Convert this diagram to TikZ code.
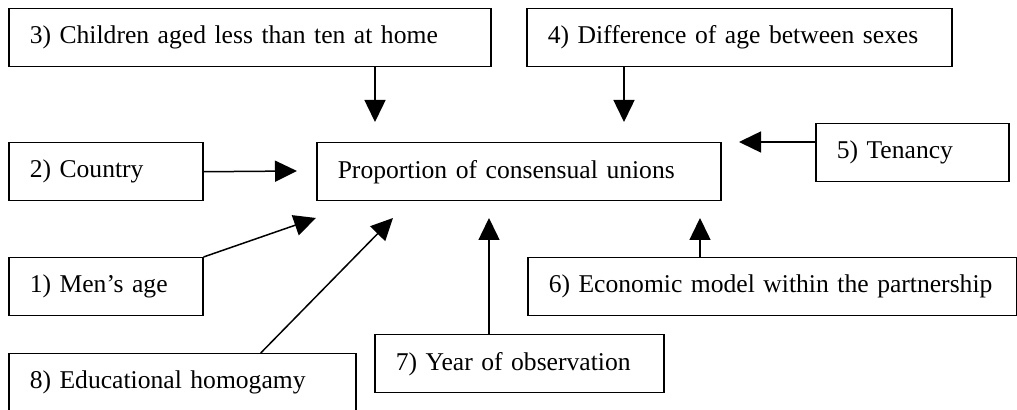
\documentclass[tikz,border=0pt]{standalone}
\usepackage{fontspec}
\setmainfont{Liberation Serif}
\usetikzlibrary{arrows.meta}
\definecolor{cuInk}{HTML}{000000}
\tikzset{
  factor/.style={
    draw=cuInk, line width=0.75pt, anchor=north west,
    inner xsep=10.5pt, inner ysep=0pt, minimum height=29pt,
    align=left, font=\fontsize{12.8}{15}\selectfont, text=cuInk
  },
  link/.style={-{Triangle[length=11pt, width=10.5pt]}, line width=0.75pt, draw=cuInk},
}
\begin{document}
\begin{tikzpicture}[x=0.5pt, y=-0.5pt]
  \useasboundingbox (0,0) rectangle (1017,410);

  \node[factor, text width=181pt]   (outcome) at (316,142) {Proportion of consensual unions};
  \node[factor, text width=76pt]    (c1) at (8,257)   {1) Men’s age};
  \node[factor, text width=76pt]    (c2) at (8,142)   {2) Country};
  \node[factor, text width=220pt]   (c3) at (8,8)     {3) Children aged less than ten at home};
  \node[factor, text width=191.5pt] (c4) at (526,8)   {4) Difference of age between sexes};
  \node[factor, text width=75.5pt]  (c5) at (815,123) {5) Tenancy};
  \node[factor, text width=223.5pt] (c6) at (527,257) {6) Economic model within the partnership};
  \node[factor, text width=123.5pt] (c7) at (374,334) {7) Year of observation};
  \node[factor, text width=152.5pt] (c8) at (8,353)   {8) Educational homogamy};

  % arrow tips stop short of the central box
  \coordinate (t1) at (316,218);
  \coordinate (t2) at (297,171);
  \coordinate (t3) at (375,122);
  \coordinate (t4) at (624,122);
  \coordinate (t5) at (739,142);
  \coordinate (t6) at (700,218);
  \coordinate (t7) at (489,218);
  \coordinate (t8) at (393,218);

  \draw[link] (c1.north east) -- (t1);
  \draw[link] (c2.east) -- (t2);
  \draw[link] (c3.south -| t3) -- (t3);
  \draw[link] (c4.south -| t4) -- (t4);
  \draw[link] (c5.west |- t5) -- (t5);
  \draw[link] (c6.north -| t6) -- (t6);
  \draw[link] (c7.north -| t7) -- (t7);
  \draw[link] ([xshift=39.25pt]c8.north) -- (t8);
\end{tikzpicture}
\end{document}
